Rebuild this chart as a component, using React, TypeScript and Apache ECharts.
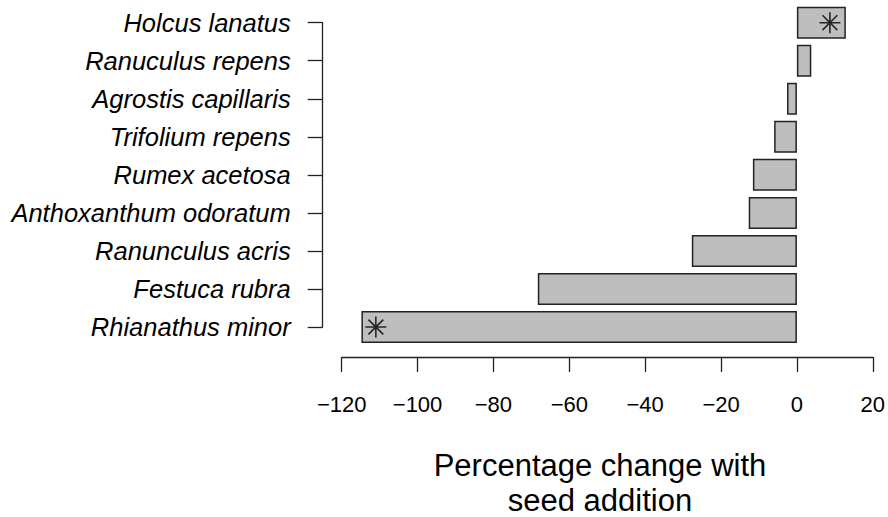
import React, { useEffect, useRef } from "react";
import * as echarts from "echarts";

const categories = [
  "Holcus lanatus",
  "Ranuculus repens",
  "Agrostis capillaris",
  "Trifolium repens",
  "Rumex acetosa",
  "Anthoxanthum odoratum",
  "Ranunculus acris",
  "Festuca rubra",
  "Rhianathus minor",
];
const values = [12.9, 3.8, -2.6, -6.0, -11.6, -12.7, -27.7, -68.3, -114.8];

const sigCategories = ["Holcus lanatus", "Rhianathus minor"];
const sigPositions = [8.7, -111];

const xTitle = "Percentage change with\nseed addition";
const FONT = "Liberation Sans, Arial, Helvetica, sans-serif";

const ASTERISK =
  "path://M10 0 L10 20 M0 10 L20 10 M2.93 2.93 L17.07 17.07 M2.93 17.07 L17.07 2.93";

export default function App() {
  const ref = useRef<HTMLDivElement>(null);
  useEffect(() => {
    if (!ref.current) return;
    const chart = echarts.init(ref.current, null, { renderer: "svg" });
    chart.setOption({
      animation: false,
      backgroundColor: "#ffffff",
      title: {
        text: xTitle,
        left: 595,
        top: 443,
        textAlign: "center",
        textStyle: {
          fontFamily: FONT,
          fontSize: 31,
          fontWeight: "normal",
          color: "#000",
          lineHeight: 35,
        },
      },
      grid: { left: 341.7, right: 14.3, top: 22.7, bottom: 190 },
      xAxis: {
        type: "value",
        min: -120,
        max: 20,
        interval: 20,
        position: "bottom",
        offset: 30,
        splitLine: { show: false },
        axisLine: { show: true, onZero: false, lineStyle: { color: "#222", width: 1.3 } },
        axisTick: { show: true, length: 15, lineStyle: { color: "#222", width: 1.3 } },
        axisLabel: {
          fontFamily: FONT,
          fontSize: 22,
          color: "#000",
          margin: 36,
          formatter: (v: number) => (v < 0 ? "\u2212" + Math.abs(v) : String(v)),
        },
      },
      yAxis: {
        type: "category",
        data: categories,
        inverse: true,
        boundaryGap: false,
        offset: 19,
        axisLine: { show: true, onZero: false, lineStyle: { color: "#222", width: 1.3 } },
        axisTick: { show: true, length: 15, lineStyle: { color: "#222", width: 1.3 } },
        axisLabel: {
          fontFamily: FONT,
          fontSize: 25.5,
          fontStyle: "italic",
          color: "#000",
          margin: 32,
        },
        splitLine: { show: false },
      },
      series: [
        {
          type: "bar",
          data: values,
          barWidth: 32,
          clip: false,
          itemStyle: { color: "#bebebe", borderColor: "#222", borderWidth: 1.5 },
        },
        {
          type: "scatter",
          data: sigPositions.map((v, i) => [v, sigCategories[i]]),
          symbol: ASTERISK,
          symbolSize: 21,
          clip: false,
          z: 5,
          itemStyle: { color: "none", borderColor: "#000", borderWidth: 1.6 },
        },
      ],
    });
    return () => chart.dispose();
  }, []);
  return (
    <div
      ref={ref}
      style={{ position: "absolute", left: 0, top: 0, width: 888, height: 517 }}
    />
  );
}
